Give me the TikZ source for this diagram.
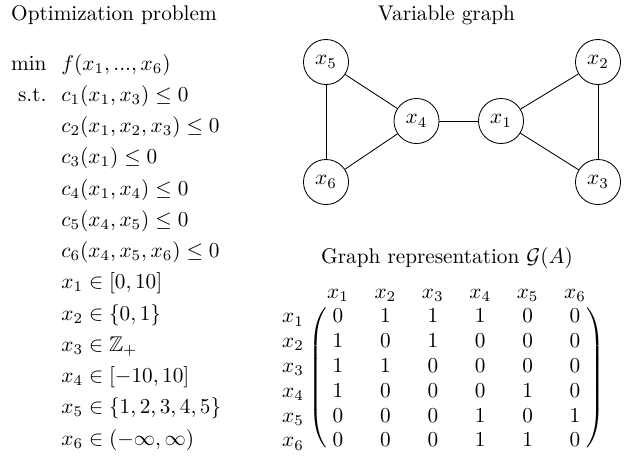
\documentclass[tikz,border=0pt]{standalone}
\usepackage{amsmath,amssymb}
\usetikzlibrary{matrix}
\begin{document}
\begin{tikzpicture}[x=0.4706pt,y=-0.4706pt,
  vnode/.style={circle,draw,minimum size=21.2pt,inner sep=0pt},
  edgeline/.style={draw,line width=0.4pt},
  ln/.style={anchor=base west,inner sep=0pt},
  lnr/.style={anchor=base east,inner sep=0pt},
  ttl/.style={anchor=base,inner sep=0pt},
  lab/.style={anchor=base,inner sep=0pt}]
\useasboundingbox (0,0) rectangle (633,458);
% titles
\node[ttl] (t1) at (114,20) {Optimization problem};
\node[ttl] (t2) at (446.5,20) {Variable graph};
\node[ttl] (t3) at (447,263) {Graph representation $\mathcal{G}(A)$};
% optimization problem
\node[lnr] (m0) at (47,70) {$\min$};
\node[lnr] (m1) at (47,101.25) {s.t.};
\foreach \k/\txt in {0/{$f(x_1,...,x_6)$},
  1/{$c_1(x_1,x_3)\le 0$},
  2/{$c_2(x_1,x_2,x_3)\le 0$},
  3/{$c_3(x_1)\le 0$},
  4/{$c_4(x_1,x_4)\le 0$},
  5/{$c_5(x_4,x_5)\le 0$},
  6/{$c_6(x_4,x_5,x_6)\le 0$},
  7/{$x_1\in[0,10]$},
  8/{$x_2\in\{0,1\}$},
  9/{$x_3\in\mathbb{Z}_+$},
  10/{$x_4\in[-10,10]$},
  11/{$x_5\in\{1,2,3,4,5\}$},
  12/{$x_6\in(-\infty,\infty)$}}
  \node[ln] (L\k) at (61,70+31.25*\k) {\txt};
% variable graph
\node[vnode] (x5) at (326,62) {$x_5$};
\node[vnode] (x4) at (416.5,121) {$x_4$};
\node[vnode] (x1) at (501,121) {$x_1$};
\node[vnode] (x2) at (598,62) {$x_2$};
\node[vnode] (x3) at (598,182) {$x_3$};
\node[vnode] (x6) at (326,182) {$x_6$};
\draw[edgeline] (x5) -- (x6);
\draw[edgeline] (x5) -- (x4);
\draw[edgeline] (x6) -- (x4);
\draw[edgeline] (x4) -- (x1);
\draw[edgeline] (x1) -- (x2);
\draw[edgeline] (x1) -- (x3);
\draw[edgeline] (x2) -- (x3);
% matrix
\matrix (A) at (456.5,378) [matrix of math nodes, inner xsep=0pt, inner ysep=2.5pt, outer sep=0pt,
  left delimiter=(, right delimiter=),
  every left delimiter/.style={xshift=2pt},
  every right delimiter/.style={xshift=-2pt},
  nodes={minimum width=8pt, inner sep=0pt, anchor=center},
  column sep=14.3pt, row sep=5.23pt] {
  0 & 1 & 1 & 1 & 0 & 0\\
  1 & 0 & 1 & 0 & 0 & 0\\
  1 & 1 & 0 & 0 & 0 & 0\\
  1 & 0 & 0 & 0 & 1 & 0\\
  0 & 0 & 0 & 1 & 0 & 1\\
  0 & 0 & 0 & 1 & 1 & 0\\
};
\coordinate (rl) at (293,0);
\coordinate (ch) at (0,298);
\foreach \i in {1,...,6}{
  \node[lab] (r\i) at (rl |- A-\i-1.base) {$x_{\i}$};
  \node[lab] (c\i) at (A-1-\i.base |- ch) {$x_{\i}$};
}
\end{tikzpicture}
\end{document}
